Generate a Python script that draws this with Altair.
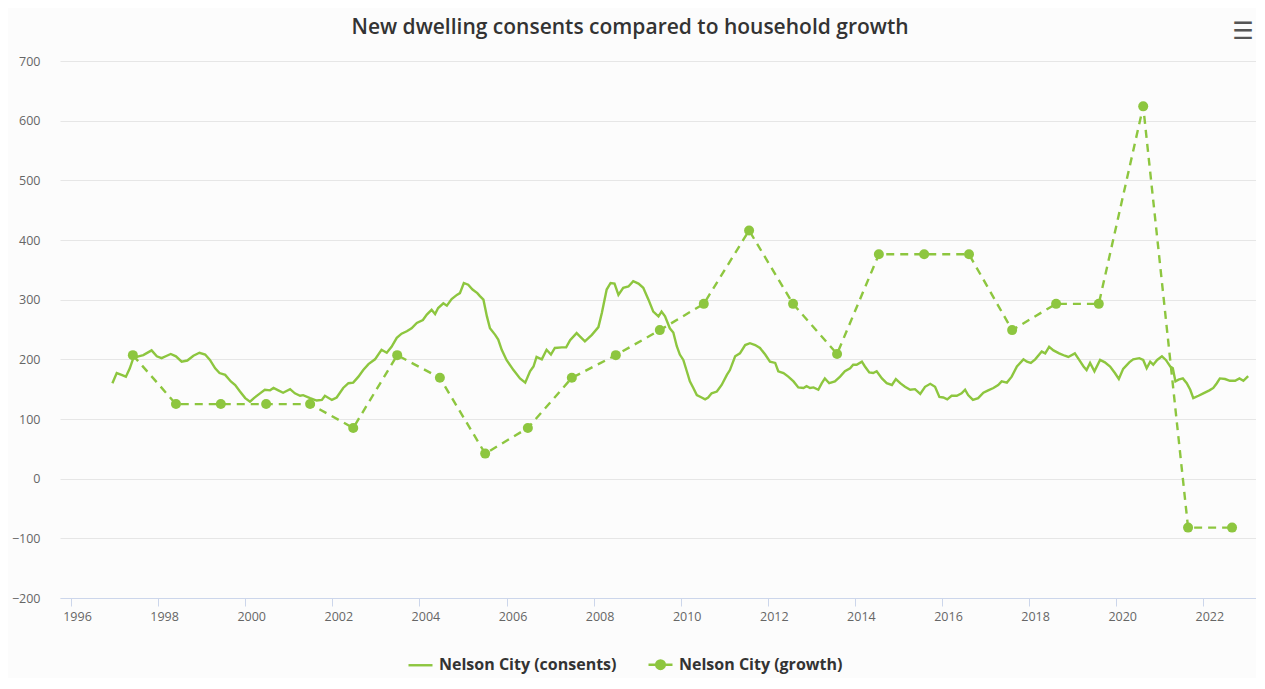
import altair as alt
import pandas as pd

# ---------------- data ----------------
cons_year = [1996.95, 1997.05, 1997.16, 1997.26, 1997.35, 1997.43, 1997.55, 1997.66, 1997.85, 1997.97,
             1998.08, 1998.20, 1998.29, 1998.41, 1998.54, 1998.67, 1998.81, 1998.95, 1999.08, 1999.19,
             1999.31, 1999.41, 1999.54, 1999.67, 1999.77, 1999.88, 2000.00, 2000.11, 2000.20, 2000.34,
             2000.45, 2000.57, 2000.65, 2000.76, 2000.87, 2001.03, 2001.14, 2001.26, 2001.33, 2001.49,
             2001.64, 2001.76, 2001.83, 2001.99, 2002.10, 2002.25, 2002.37, 2002.48, 2002.60, 2002.71,
             2002.83, 2002.98, 2003.13, 2003.25, 2003.36, 2003.48, 2003.59, 2003.71, 2003.82, 2003.94,
             2004.08, 2004.17, 2004.28, 2004.36, 2004.43, 2004.55, 2004.63, 2004.74, 2004.86, 2004.93,
             2005.02, 2005.12, 2005.22, 2005.33, 2005.39, 2005.47, 2005.55, 2005.62, 2005.74, 2005.81,
             2005.89, 2006.00, 2006.16, 2006.31, 2006.43, 2006.54, 2006.62, 2006.69, 2006.81, 2006.92,
             2007.02, 2007.11, 2007.27, 2007.37, 2007.46, 2007.61, 2007.69, 2007.80, 2007.96, 2008.11,
             2008.19, 2008.30, 2008.39, 2008.48, 2008.57, 2008.68, 2008.80, 2008.91, 2009.03, 2009.14,
             2009.26, 2009.37, 2009.49, 2009.56, 2009.64, 2009.75, 2009.83, 2009.91, 2009.98, 2010.06,
             2010.14, 2010.21, 2010.29, 2010.37, 2010.48, 2010.56, 2010.63, 2010.71, 2010.83, 2010.94,
             2011.06, 2011.13, 2011.25, 2011.36, 2011.48, 2011.59, 2011.71, 2011.82, 2011.94, 2012.05,
             2012.17, 2012.24, 2012.36, 2012.47, 2012.59, 2012.70, 2012.82, 2012.89, 2012.97, 2013.05,
             2013.16, 2013.24, 2013.31, 2013.41, 2013.54, 2013.66, 2013.77, 2013.89, 2013.96, 2014.04,
             2014.16, 2014.23, 2014.33, 2014.42, 2014.50, 2014.62, 2014.73, 2014.85, 2014.94, 2015.04,
             2015.15, 2015.27, 2015.38, 2015.50, 2015.61, 2015.73, 2015.84, 2015.94, 2016.03, 2016.12,
             2016.22, 2016.34, 2016.45, 2016.53, 2016.60, 2016.71, 2016.83, 2016.95, 2017.06, 2017.18,
             2017.29, 2017.37, 2017.49, 2017.60, 2017.72, 2017.87, 2017.95, 2018.04, 2018.14, 2018.29,
             2018.37, 2018.46, 2018.56, 2018.69, 2018.82, 2018.90, 2019.05, 2019.15, 2019.25, 2019.32,
             2019.40, 2019.50, 2019.63, 2019.74, 2019.86, 2019.97, 2020.06, 2020.16, 2020.30, 2020.39,
             2020.53, 2020.62, 2020.70, 2020.78, 2020.85, 2020.94, 2021.05, 2021.14, 2021.24, 2021.30,
             2021.36, 2021.43, 2021.53, 2021.62, 2021.70, 2021.77, 2021.89, 2022.00, 2022.14, 2022.23,
             2022.31, 2022.38, 2022.50, 2022.61, 2022.73, 2022.83, 2022.92, 2023.03]
cons_value = [160, 177, 174, 171, 185, 202, 205, 207, 215, 205,
              202, 206, 209, 205, 196, 198, 206, 211, 208, 199,
              185, 177, 174, 163, 157, 146, 135, 129, 135, 143,
              149, 148, 152, 148, 144, 150, 143, 139, 140, 135,
              131, 132, 139, 132, 136, 152, 160, 161, 171, 182,
              192, 200, 216, 211, 221, 236, 243, 247, 252, 261,
              266, 275, 283, 276, 286, 294, 290, 301, 308, 311,
              328, 325, 317, 311, 306, 300, 272, 252, 241, 233,
              216, 199, 182, 168, 161, 180, 188, 204, 200, 216,
              208, 219, 220, 220, 232, 244, 238, 230, 241, 254,
              278, 317, 328, 327, 308, 320, 322, 331, 327, 320,
              300, 280, 272, 280, 272, 252, 245, 222, 208, 199,
              180, 163, 152, 140, 136, 133, 136, 143, 146, 157,
              174, 182, 205, 210, 224, 227, 224, 219, 208, 196,
              194, 180, 177, 171, 163, 153, 152, 155, 152, 153,
              149, 160, 168, 160, 163, 171, 180, 185, 191, 191,
              196, 188, 178, 177, 180, 168, 160, 157, 167, 160,
              154, 149, 150, 142, 154, 159, 154, 137, 136, 133,
              139, 139, 143, 149, 140, 132, 135, 144, 148, 152,
              157, 163, 161, 171, 188, 200, 196, 194, 200, 213,
              210, 221, 215, 210, 206, 204, 210, 199, 188, 182,
              194, 180, 199, 195, 188, 177, 167, 184, 195, 200,
              202, 199, 185, 196, 191, 199, 205, 199, 188, 185,
              163, 166, 168, 160, 149, 135, 139, 143, 148, 152,
              160, 168, 167, 164, 164, 168, 164, 172]

growth_year = [1997.42, 1998.41, 1999.44, 2000.48, 2001.49, 2002.48, 2003.49, 2004.47, 2005.51, 2006.49,
               2007.50, 2008.51, 2009.52, 2010.53, 2011.57, 2012.58, 2013.59, 2014.55, 2015.59, 2016.62,
               2017.61, 2018.62, 2019.60, 2020.62, 2021.65, 2022.66]
growth_value = [207, 125, 125, 125, 125, 85, 207, 169, 42, 85,
                169, 207, 249, 293, 416, 293, 209, 376, 376, 376,
                249, 293, 293, 624, -82, -82]

series_names = ["Nelson City (consents)", "Nelson City (growth)"]
x_ticks = [1996, 1998, 2000, 2002, 2004, 2006, 2008, 2010, 2012, 2014, 2016, 2018, 2020, 2022]
y_ticks = [-200, -100, 0, 100, 200, 300, 400, 500, 600, 700]
title_text = ["New dwelling consents compared to household growth"]
menu_icon = ["\u2630"]

# ---------------- styling ----------------
GREEN = "#8DC63F"
FONT = "Open Sans"
x_scale = alt.Scale(domain=[1995.747, 2023.21], nice=False, zero=False)
y_scale = alt.Scale(domain=[-200, 700], nice=False, zero=False)

cons_df = pd.DataFrame({"year": cons_year, "value": cons_value, "series": series_names[0]})
growth_df = pd.DataFrame({"year": growth_year, "value": growth_value, "series": series_names[1]})
legend_df = pd.DataFrame({"series": series_names})
title_df = pd.DataFrame({"t": title_text})
icon_df = pd.DataFrame({"icon": menu_icon})

x_enc = alt.X("year:Q", scale=x_scale, title=None,
              axis=alt.Axis(values=x_ticks, format="d", grid=False, domain=True,
                            domainColor="#ccd6eb", domainWidth=1, ticks=True, tickColor="#ccd6eb",
                            tickSize=8, labelPadding=4, labelOffset=6, labelColor="#666666",
                            labelFont=FONT, labelFontSize=12.5, labelFlush=False))
y_enc = alt.Y("value:Q", scale=y_scale, title=None,
              axis=alt.Axis(values=y_ticks, grid=True, gridColor="#e6e6e6", gridWidth=1,
                            domain=False, ticks=False, labelPadding=20, labelColor="#666666",
                            labelFont=FONT, labelFontSize=12.5, labelFlush=False))

cons_line = alt.Chart(cons_df).mark_line(color=GREEN, strokeWidth=2.4).encode(x=x_enc, y=y_enc)

growth_line = alt.Chart(growth_df).mark_line(color=GREEN, strokeWidth=2.4, strokeDash=[8, 6]).encode(
    x=alt.X("year:Q", scale=x_scale), y=alt.Y("value:Q", scale=y_scale))

growth_pts = alt.Chart(growth_df).mark_circle(color=GREEN, size=100, opacity=1).encode(
    x=alt.X("year:Q", scale=x_scale), y=alt.Y("value:Q", scale=y_scale))

# legend symbols: a plain line, and a line with a (stroke-filled) dot in the middle
LINE_PATH = "M-1,0H1"
DOT_PATH = ("M-1,0H1"
            "M0.36,0A0.36,0.36,0,1,1,-0.36,0A0.36,0.36,0,1,1,0.36,0Z"
            "M0.2,0A0.2,0.2,0,1,1,-0.2,0A0.2,0.2,0,1,1,0.2,0Z"
            "M0.06,0A0.06,0.06,0,1,1,-0.06,0A0.06,0.06,0,1,1,0.06,0Z")

legend_layer = alt.Chart(legend_df).mark_point(
    filled=False, color=GREEN, strokeWidth=2.4, opacity=0
).encode(
    shape=alt.Shape("series:N",
                    scale=alt.Scale(domain=series_names, range=[LINE_PATH, DOT_PATH]),
                    legend=alt.Legend(title=None, orient="none", legendX=347, legendY=590,
                                      direction="horizontal", symbolSize=576,
                                      symbolStrokeWidth=2.4, symbolStrokeColor=GREEN,
                                      symbolOpacity=1, labelLimit=400,
                                      labelFont=FONT, labelFontSize=16, labelFontWeight="bold",
                                      labelColor="#333333", labelOffset=5, columnPadding=26))
)

title_layer = alt.Chart(title_df).mark_text(
    font=FONT, fontSize=21, fontWeight=600, color="#333333", align="center", baseline="middle"
).encode(x=alt.value(570), y=alt.value(-33), text="t:N")

icon_layer = alt.Chart(icon_df).mark_text(
    font="DejaVu Sans", fontSize=24, fontWeight="bold", color="#555555", align="center",
    baseline="middle"
).encode(x=alt.value(1183), y=alt.value(-29), text="icon:N")

chart = alt.layer(cons_line, growth_line, growth_pts, legend_layer, title_layer, icon_layer).properties(
    width=1196, height=537,
    autosize=alt.AutoSizeParams(type="none"),
    padding={"left": 52, "top": 53, "right": 0, "bottom": 80},
).configure(background="#fcfcfc").configure_view(stroke=None)

chart.save("out.html", embed_options={"renderer": "svg", "actions": False})
